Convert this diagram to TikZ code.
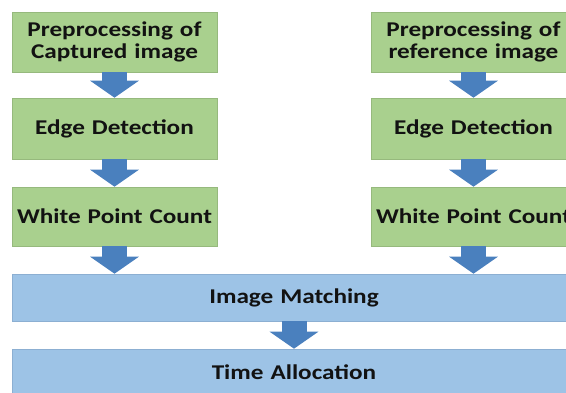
\documentclass[tikz,border=0pt]{standalone}
\usepackage{fontspec}
\setmainfont{Carlito}[FakeStretch=1.2]
\usepackage{tikz}
\usetikzlibrary{arrows.meta}
\usetikzlibrary{positioning}
\definecolor{mgreen}{RGB}{169, 208, 142}
\definecolor{mgreenedge}{RGB}{150, 185, 125}
\definecolor{mblue}{RGB}{157, 195, 230}
\definecolor{mblueedge}{RGB}{140, 175, 210}
\definecolor{marrow}{RGB}{74, 128, 190}
\definecolor{mtext}{RGB}{18, 18, 18}
\tikzset{stagebox/.style = {fill=mgreen, draw=mgreenedge, line width=0.6pt,
                            minimum width=205pt, text width=204pt, align=center,
                            inner sep=0pt, text=mtext,
                            font=\fontsize{21}{22}\selectfont\bfseries},
         mergebox/.style = {stagebox, fill=mblue, draw=mblueedge,
                            minimum width=564pt, text width=500pt},
         flow/.style = {draw=marrow, line width=25pt,
                        -{Triangle[width=48pt, length=17pt]}}}

\begin{document}
\begin{tikzpicture}[x=1pt, y=1pt]
      \clip (0, 0) rectangle (566, 392);
      \fill [white] (0, 0) rectangle (566, 392);

      % captured image branch
      \node [stagebox, minimum height=60pt] (cap1) at (114.5, 350)
            {Preprocessing of\\Captured image};
      \node [stagebox, minimum height=61pt] (cap2) at (114.5, 263.5) {Edge Detection};
      \node [stagebox, minimum height=59pt] (cap3) at (114.5, 175.5) {White Point Count};

      % reference image branch
      \node [stagebox, minimum height=60pt] (ref1) at (473.5, 350)
            {Preprocessing of\\reference image};
      \node [stagebox, minimum height=61pt] (ref2) at (473.5, 263.5) {Edge Detection};
      \node [stagebox, minimum height=59pt] (ref3) at (473.5, 175.5) {White Point Count};

      \node [mergebox, minimum height=47pt] (match) at (294, 94.5) {Image Matching};
      \node [mergebox, minimum height=47pt] (time) at (294, 19.5) {Time Allocation};

      \draw [flow] (cap1) -- (cap2);
      \draw [flow] (cap2) -- (cap3);
      \draw [flow] (ref1) -- (ref2);
      \draw [flow] (ref2) -- (ref3);
      \draw [flow] (cap3.south) -- (cap3.south |- match.north);
      \draw [flow] (ref3.south) -- (ref3.south |- match.north);
      \draw [flow] (match) -- (time);
    \end{tikzpicture}
\end{document}
